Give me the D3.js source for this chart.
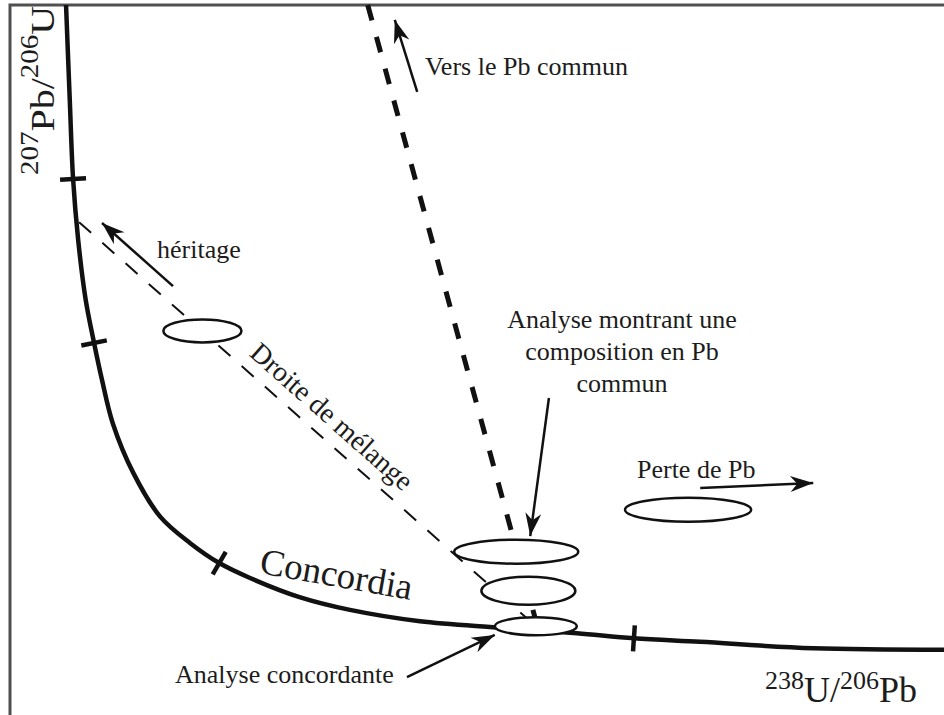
<!DOCTYPE html>
<html>
<head>
<meta charset="utf-8">
<script src="https://d3js.org/d3.v7.min.js"></script>
<style>
  body { margin: 0; background: #fff; }
  svg { display: block; }
  text { font-family: "Liberation Serif", "Times New Roman", serif; fill: #1c1c1c; }
</style>
</head>
<body>
<svg id="chart" width="944" height="715"></svg>
<script>
// schematic Tera-Wasserburg diagram, values in arbitrary units (0-100)
// x = 238U/206Pb, y = 207Pb/206Pb
const concordia = [
  [6.0, 100], [6.4, 86.6], [6.75, 75.6], [7.3, 66.9], [8.1, 58.5], [9.0, 52.4],
  [9.85, 47.2], [11.0, 41.1], [13.2, 34.1], [16.1, 27.9], [19.3, 24.2], [22.4, 21.4],
  [25.7, 19.3], [31.0, 16.6], [36.4, 14.8], [43.9, 13.2], [52.5, 12.3], [60.7, 11.5],
  [66.8, 10.8], [73.9, 10.3], [86.0, 9.4], [100, 9.2]
];
const ageTicks = [[6.75, 75.5], [9.0, 52.4], [22.4, 21.4], [66.8, 10.8]];

const mixingLine = [[7.4, 69.4], [56.3, 12.5]];      // droite de mélange
const commonPbLine = [[38.3, 100], [56.9, 10.4]];    // vers le Pb commun

const analyses = [
  { name: "héritage",     cx: 20.6, cy: 54.1, rx: 4.18, ry: 1.62 },
  { name: "perte de Pb",  cx: 72.6, cy: 28.9, rx: 6.75, ry: 1.69 },
  { name: "Pb commun 1",  cx: 54.2, cy: 23.0, rx: 6.64, ry: 1.69 },
  { name: "Pb commun 2",  cx: 55.5, cy: 17.5, rx: 5.03, ry: 1.97 },
  { name: "concordante",  cx: 56.3, cy: 12.5, rx: 4.39, ry: 1.27 }
];

// [x1, y1, x2 (tip), y2 (tip)]
const arrows = [
  [17.45, 60.4, 9.85, 69.3],
  [43.6, 87.75, 41.2, 97.9],
  [57.7, 44.65, 55.7, 25.2],
  [73.9, 31.97, 86.0, 32.68],
  [42.5, 5.35, 51.9, 11.27]
];

const labels = [
  { text: "héritage", x: 15.74, y: 64.37, anchor: "start" },
  { text: "Vers le Pb commun", x: 44.43, y: 90.14, anchor: "start" },
  { text: "Analyse montrant une", x: 65.52, y: 54.51, anchor: "middle" },
  { text: "composition en Pb", x: 65.52, y: 50.0, anchor: "middle" },
  { text: "commun", x: 65.52, y: 45.49, anchor: "middle" },
  { text: "Perte de Pb", x: 67.13, y: 33.38, anchor: "start" },
  { text: "Analyse concordante", x: 17.67, y: 4.51, anchor: "start" }
];
const concordiaLabel = { text: "Concordia", x: 26.6, y: 20.0 };
const mixingLabel = { text: "Droite de mélange", x: 25.5, y: 50.7 };
const xLabel = [["238", true], ["U/", false], ["206", true], ["Pb", false]];
const yLabel = [["207", true], ["Pb/", false], ["206", true], ["U", false]];
const xLabelPos = [80.84, 1.83];
const yLabelPos = [4.71, 76.06];

const svg = d3.select("svg#chart");
const width = +svg.attr("width");
const height = +svg.attr("height");

const x = d3.scaleLinear().domain([0, 100]).range([10, 944]);
const y = d3.scaleLinear().domain([0, 100]).range([715, 5]);

svg.append("rect").attr("width", width).attr("height", height).attr("fill", "#fff");

// frame (only top and left edges are inside the picture)
svg.append("rect")
  .attr("x", 10).attr("y", 5).attr("width", 1000).attr("height", 1000)
  .attr("fill", "none").attr("stroke", "#505050").attr("stroke-width", 3);

const defs = svg.append("defs");
defs.append("marker")
  .attr("id", "head")
  .attr("markerUnits", "userSpaceOnUse")
  .attr("viewBox", "-24 -10 26 20")
  .attr("markerWidth", 26).attr("markerHeight", 20)
  .attr("refX", 0).attr("refY", 0)
  .attr("orient", "auto")
  .append("path")
  .attr("d", "M0,0 L-23,-8 L-16,0 L-23,8 Z")
  .attr("fill", "#111");

const line = d3.line().x(d => x(d[0])).y(d => y(d[1]));

// concordia
svg.append("path")
  .datum(concordia)
  .attr("d", line.curve(d3.curveCatmullRom.alpha(0.5)))
  .attr("fill", "none").attr("stroke", "#111").attr("stroke-width", 4.5);
line.curve(d3.curveLinear);

// mixing line
svg.append("path")
  .datum(mixingLine)
  .attr("d", line)
  .attr("fill", "none").attr("stroke", "#111").attr("stroke-width", 2)
  .attr("stroke-dasharray", "16,15");

// common Pb line
svg.append("path")
  .datum(commonPbLine)
  .attr("d", line)
  .attr("fill", "none").attr("stroke", "#111").attr("stroke-width", 5)
  .attr("stroke-dasharray", "16,17");

// age ticks, perpendicular to the curve
svg.selectAll("line.tick").data(ageTicks).join("line")
  .attr("class", "tick")
  .each(function(d) {
    let i = d3.minIndex(concordia, c => (c[0] - d[0]) ** 2 + (c[1] - d[1]) ** 2);
    const a = concordia[Math.max(i - 1, 0)], b = concordia[Math.min(i + 1, concordia.length - 1)];
    let dx = x(b[0]) - x(a[0]), dy = y(b[1]) - y(a[1]);
    const len = Math.hypot(dx, dy);
    const nx = -dy / len * 13, ny = dx / len * 13;
    d3.select(this)
      .attr("x1", x(d[0]) - nx).attr("y1", y(d[1]) - ny)
      .attr("x2", x(d[0]) + nx).attr("y2", y(d[1]) + ny);
  })
  .attr("stroke", "#111").attr("stroke-width", 4.5);

// analyses
svg.selectAll("ellipse.analysis").data(analyses).join("ellipse")
  .attr("class", "analysis")
  .attr("cx", d => x(d.cx)).attr("cy", d => y(d.cy))
  .attr("rx", d => x(d.rx) - x(0)).attr("ry", d => y(0) - y(d.ry))
  .attr("fill", "#fff").attr("stroke", "#111").attr("stroke-width", 2.5);

// arrows
svg.selectAll("line.arrow").data(arrows).join("line")
  .attr("class", "arrow")
  .attr("x1", d => x(d[0])).attr("y1", d => y(d[1]))
  .attr("x2", d => x(d[2])).attr("y2", d => y(d[3]))
  .attr("stroke", "#111").attr("stroke-width", 2.5)
  .attr("marker-end", "url(#head)");

// labels
svg.selectAll("text.label").data(labels).join("text")
  .attr("class", "label")
  .attr("x", d => x(d.x)).attr("y", d => y(d.y))
  .attr("text-anchor", d => d.anchor)
  .attr("font-size", 26)
  .text(d => d.text);

svg.append("text")
  .attr("transform", `translate(${x(concordiaLabel.x)},${y(concordiaLabel.y)}) rotate(10)`)
  .attr("font-size", 37)
  .text(concordiaLabel.text);

const mAngle = Math.atan2(y(mixingLine[1][1]) - y(mixingLine[0][1]),
                          x(mixingLine[1][0]) - x(mixingLine[0][0])) * 180 / Math.PI;
svg.append("text")
  .attr("transform", `translate(${x(mixingLabel.x)},${y(mixingLabel.y)}) rotate(${mAngle})`)
  .attr("font-size", 28)
  .text(mixingLabel.text);

function axisLabel(parts, main, sup, rise, transform) {
  const t = svg.append("text").attr("transform", transform).attr("font-size", main);
  let raised = false;
  parts.forEach(([s, isSup]) => {
    const ts = t.append("tspan").text(s);
    if (isSup) { ts.attr("font-size", sup); if (!raised) { ts.attr("dy", -rise); raised = true; } }
    else if (raised) { ts.attr("dy", rise); raised = false; }
  });
}
axisLabel(xLabel, 36, 26, 13, `translate(${x(xLabelPos[0])},${y(xLabelPos[1])})`);
axisLabel(yLabel, 40, 29, 19, `translate(${x(yLabelPos[0])},${y(yLabelPos[1])}) rotate(-90) scale(1,0.85)`);
</script>
</body>
</html>
